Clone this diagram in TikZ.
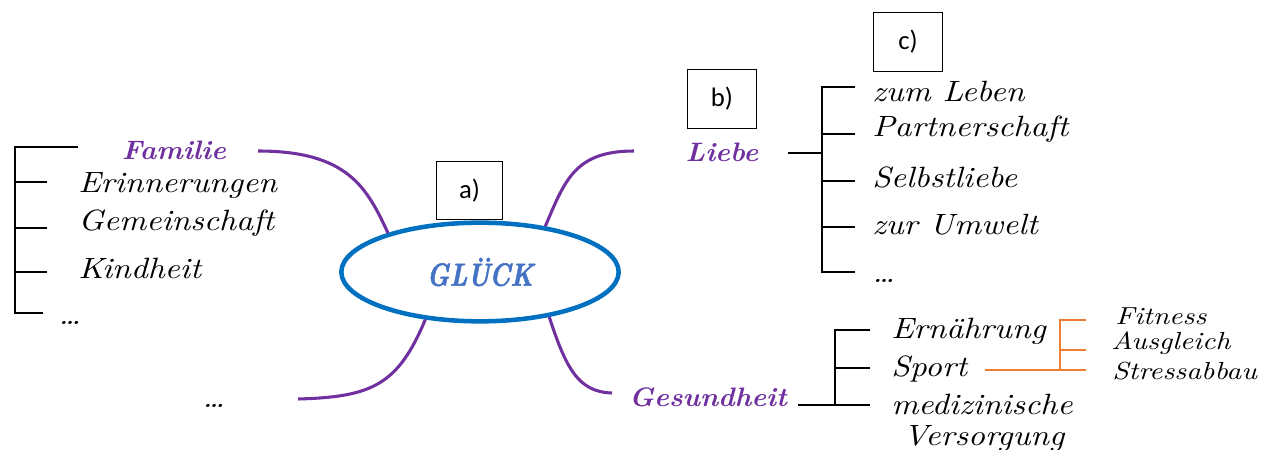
\documentclass[tikz,border=0pt]{standalone}
\usepackage{fontspec}
\usetikzlibrary{shapes.geometric}
\newfontfamily\hand{lmroman10-italic.otf}[FakeStretch=1.13]
\newfontfamily\handsmall{lmroman10-italic.otf}[FakeStretch=1.18]
\newfontfamily\handbold{lmroman10-bolditalic.otf}[FakeStretch=1.05]
\newfontfamily\handcap{lmroman10-bolditalic.otf}[FakeStretch=0.8, FakeBold=1.5]
\newfontfamily\boxfont{Carlito}
\definecolor{branch}{HTML}{7030A0}
\definecolor{rim}{HTML}{0070C0}
\definecolor{core}{HTML}{4472C4}
\definecolor{twig}{HTML}{ED7D31}
\tikzset{
  item/.style={anchor=west, inner sep=0pt, font=\hand\fontsize{22}{25}\selectfont},
  small/.style={anchor=west, inner sep=0pt, font=\handsmall\fontsize{18.5}{21}\selectfont},
  topic/.style={inner sep=0pt, text=branch, font=\handbold\fontsize{20}{23}\selectfont},
  limb/.style={draw=branch, line width=2.3pt},
  rake/.style={draw=black, line width=2.2pt},
  fork/.style={draw=twig, line width=1.1pt},
  tag/.style={draw=black, line width=0.8pt, minimum width=50pt, minimum height=44pt,
    inner sep=0pt, font=\boxfont\fontsize{20}{24}\selectfont}
}
\begin{document}
\begin{tikzpicture}[x=0.75pt, y=-0.75pt]
\useasboundingbox (0,0) rectangle (1275,450);

% centre
\node[ellipse, draw=rim, line width=3.4pt, minimum width=208pt, minimum height=74pt,
  inner sep=0pt, text=core, font=\handcap\fontsize{24}{27}\selectfont] (glueck) at (480,272) {GLÜCK};

% labelled boxes
\node[tag] (ta) at (469.5,190.5) {a)};
\node[tag, minimum width=52pt] (tb) at (722,99) {b)};
\node[tag, minimum width=52pt] (tc) at (908,42) {c)};

% main branches
\node[topic] (fam) at (174,150) {Familie};
\node[topic] (lie) at (722,152) {Liebe};
\node[topic] (ges) at (708,397) {Gesundheit};
\node[item, anchor=base west] (dots) at (202,407) {\ldots};

\coordinate (famend) at (258,151);
\coordinate (lieend) at (634,151);
\coordinate (gesend) at (612,393);
\coordinate (dotend) at (298,399);

\draw[limb] (famend) .. controls (348,151) and (367,188) .. (glueck.157);
\draw[limb] (glueck.35) .. controls (565,180) and (575,151) .. (lieend);
\draw[limb] (glueck.221) .. controls (398,385) and (372,397) .. (dotend);
\draw[limb] (glueck.-33) .. controls (566,368) and (578,392) .. (gesend);

% Familie
\draw[rake] (78,147) -- (15,147) -- (15,313) -- (43,313);
\draw[rake] (15,182) -- (47,182);
\draw[rake] (15,228) -- (47,228);
\draw[rake] (15,272) -- (47,272);
\node[item] (f1) at (78,186) {Erinnerungen};
\node[item] (f2) at (78,223) {Gemeinschaft};
\node[item] (f3) at (78,268) {Kindheit};
\node[item, anchor=base west] (f4) at (58,324) {\ldots};

% Liebe
\draw[rake] (788,153) -- (822,153);
\draw[rake] (855,87) -- (822,87) -- (822,272) -- (855,272);
\draw[rake] (822,134) -- (855,134);
\draw[rake] (822,181) -- (855,181);
\draw[rake] (822,227) -- (855,227);
\node[item] (l1) at (872,91) {zum Leben};
\node[item] (l2) at (872,129) {Partnerschaft};
\node[item] (l3) at (872,177) {Selbstliebe};
\node[item] (l4) at (872,225) {zur Umwelt};
\node[item, anchor=base west] (l5) at (872,282) {\ldots};

% Gesundheit
\draw[rake] (798,405) -- (870,405);
\draw[rake] (870,330) -- (835,330) -- (835,405);
\draw[rake] (835,368) -- (870,368);
\node[item] (g1) at (891,331) {Ernährung};
\node[item] (g2) at (891,369) {Sport};
\node[item] (g3) at (891,404) {medizinische};
\node[item] (g4) at (903,438) {Versorgung};

% Sport
\draw[fork] (985,370) -- (1086,370);
\draw[fork] (1086,320) -- (1060,320) -- (1060,370);
\draw[fork] (1060,350) -- (1086,350);
\node[small] (s1) at (1115,316) {Fitness};
\node[small] (s2) at (1111,343) {Ausgleich};
\node[small] (s3) at (1112,371) {Stressabbau};
\end{tikzpicture}
\end{document}
